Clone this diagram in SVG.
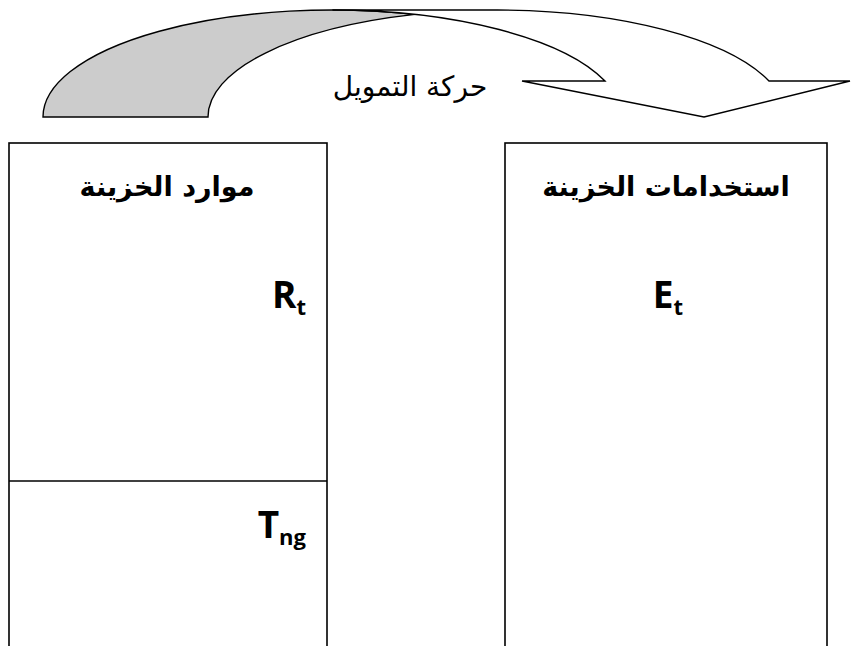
<svg xmlns="http://www.w3.org/2000/svg" width="852" height="646" viewBox="0 0 852 646">
<style>
.box{fill:#fff;stroke:#000;stroke-width:1.6}
.arm{stroke:#000;stroke-width:1.4;stroke-linejoin:miter}
.ar{font-family:"DejaVu Sans","Noto Sans",sans-serif;fill:#000}
.lat{font-family:"Open Sans","Liberation Sans",sans-serif;font-weight:bold;fill:#000}
</style>
<rect width="852" height="646" fill="#fff"/>
<g id="connectors">
<path class="arm" fill="#cccccc" d="M43,117 A289.4,107 0 0 1 414.9,14.4 A289.4,107 0 0 0 208,117 Z"/>
<path class="arm" fill="#ffffff" d="M332.4,10 L497.4,10 A289.4,107 0 0 1 769,81 L850,81 L704,117 L522,81 L605,81 A289.4,107 0 0 0 332.4,10 Z"/>
<text class="ar" x="410" y="96" font-size="28" text-anchor="middle" direction="rtl">حركة التمويل</text>
</g>
<g id="resources">
<rect class="box" x="9" y="143" width="318" height="520"/>
<line class="box" x1="9" y1="481" x2="327" y2="481"/>
<text class="ar" x="167" y="196" font-size="27" font-weight="bold" text-anchor="middle" direction="rtl">موارد الخزينة</text>
<text class="lat" x="306" y="308" font-size="37" text-anchor="end">R<tspan font-size="22" dy="7">t</tspan></text>
<text class="lat" x="306" y="538" font-size="37" text-anchor="end">T<tspan font-size="22" dy="7">ng</tspan></text>
</g>
<g id="uses">
<rect class="box" x="505" y="143" width="322" height="520"/>
<text class="ar" x="666" y="196" font-size="27" font-weight="bold" text-anchor="middle" direction="rtl">استخدامات الخزينة</text>
<text class="lat" x="668" y="308" font-size="37" text-anchor="middle">E<tspan font-size="22" dy="7">t</tspan></text>
</g>
</svg>
